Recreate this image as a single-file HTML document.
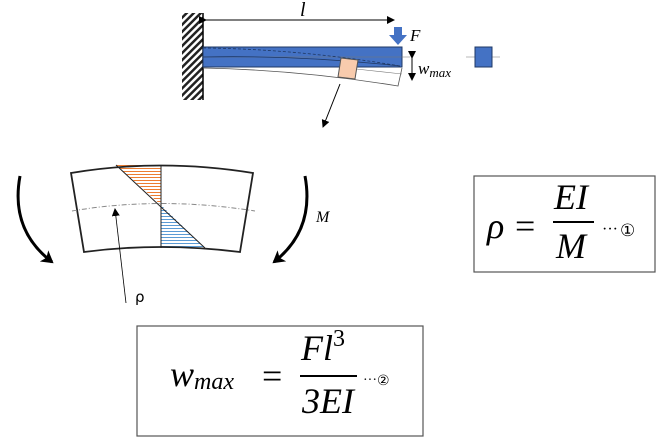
<!DOCTYPE html>
<html><head><meta charset="utf-8"><style>
html,body{margin:0;padding:0;background:#fff;width:671px;height:442px;overflow:hidden}
text{font-family:"Liberation Serif",serif;font-style:italic}
.n{font-style:normal}
</style></head><body>
<svg width="671" height="442" viewBox="0 0 671 442" xmlns="http://www.w3.org/2000/svg">
<defs>
<pattern id="hatch" width="5" height="5" patternUnits="userSpaceOnUse" patternTransform="rotate(45)">
<rect width="5" height="5" fill="#fff"/><rect width="2.5" height="5" fill="#222"/></pattern>
<pattern id="ho" width="4" height="3" patternUnits="userSpaceOnUse"><rect width="4" height="3" fill="#fff"/><rect width="4" height="1" fill="#ED7D31"/></pattern>
<pattern id="hb" width="4" height="3" patternUnits="userSpaceOnUse"><rect width="4" height="3" fill="#fff"/><rect width="4" height="1" fill="#5B9BD5"/></pattern>
<marker id="ar" markerWidth="8" markerHeight="8" refX="7" refY="4" orient="auto" markerUnits="userSpaceOnUse"><path d="M0,0 L8,4 L0,8 z" fill="#000"/></marker>
<marker id="ar2" markerWidth="14" markerHeight="14" refX="10" refY="7" orient="auto" markerUnits="userSpaceOnUse"><path d="M0,0 L12,7 L0,14 L3,7 z" fill="#000"/></marker>
</defs>
<rect x="182" y="13" width="21" height="87" fill="url(#hatch)"/>
<line x1="203" y1="13" x2="203" y2="100" stroke="#000" stroke-width="1.5"/>
<line x1="206" y1="20" x2="394" y2="20" stroke="#000" marker-end="url(#ar)" marker-start="url(#ar)"/>
<text x="300" y="16" font-size="20">l</text>
<path d="M203,68 Q300,70 398,86 L402,68" fill="none" stroke="#555" stroke-width="0.8"/>
<path d="M356,69 L402,74" stroke="#777" stroke-width="0.6" fill="none"/>
<rect x="203" y="47" width="199" height="20" fill="#4472C4" stroke="#1f3864"/>
<line x1="203" y1="57" x2="410" y2="57" stroke="#777" stroke-width="0.6"/>
<path d="M203,57 Q300,55 400,66" fill="none" stroke="#1f3864" stroke-width="0.8"/>
<path d="M203,48 Q300,49 400,66" fill="none" stroke="#1f3864" stroke-width="0.8" stroke-dasharray="3,2"/>
<path d="M394,27 h8 v8 h5 l-9,10 l-9,-10 h5 z" fill="#4472C4"/>
<text x="410" y="41" font-size="17">F</text>
<polygon points="341,58 358,60 355,79 338,77" fill="#F8CBAD" stroke="#555"/>
<line x1="340" y1="84" x2="323" y2="127" stroke="#000" marker-end="url(#ar)"/>
<line x1="412" y1="58" x2="412" y2="80" stroke="#000" marker-end="url(#ar)" marker-start="url(#ar)"/>
<text x="418" y="74" font-size="17">w<tspan font-size="13" dy="3">max</tspan></text>
<line x1="466" y1="57" x2="500" y2="57" stroke="#777" stroke-width="0.6"/>
<rect x="475" y="47" width="17" height="20" fill="#4472C4" stroke="#1f3864"/>
<polygon points="116,165 161,165 161,205" fill="url(#ho)"/>
<polygon points="161,205 161,248 205,248" fill="url(#hb)"/>
<path d="M71,173 Q160,158 253,173 L240,252 Q160,242 84,252 Z" fill="none" stroke="#222" stroke-width="1.8"/>
<line x1="116" y1="165" x2="205" y2="248" stroke="#222"/>
<line x1="161" y1="165" x2="161" y2="248" stroke="#222"/>
<path d="M72,211 Q160,196 255,211" fill="none" stroke="#888" stroke-dasharray="5,2,1,2"/>
<line x1="126" y1="303" x2="115" y2="209" stroke="#000" stroke-width="0.8" marker-end="url(#ar)"/>
<text x="135" y="302" font-size="15" style="font-style:normal;font-family:'DejaVu Sans',sans-serif">ρ</text>
<path d="M20,176 Q10,230 52,262" fill="none" stroke="#000" stroke-width="3" marker-end="url(#ar2)"/>
<path d="M305,176 Q315,230 274,262" fill="none" stroke="#000" stroke-width="3" marker-end="url(#ar2)"/>
<text x="316" y="222" font-size="16">M</text>
<rect x="474" y="176" width="181" height="96" fill="none" stroke="#555" stroke-width="1.2"/>
<text x="487" y="238" font-size="36">ρ</text>
<text x="515" y="238" font-size="36" class="n">=</text>
<text x="554" y="209" font-size="36">EI</text>
<line x1="553" y1="222" x2="594" y2="222" stroke="#000" stroke-width="2"/>
<text x="556" y="258" font-size="36">M</text>
<text x="602" y="234" font-size="16" class="n">···</text>
<text x="620" y="236" font-size="17" class="n" style="font-family:'DejaVu Sans',sans-serif">①</text>
<rect x="137" y="326" width="286" height="110" fill="none" stroke="#555" stroke-width="1.2"/>
<text x="170" y="386" font-size="36">w<tspan font-size="24" dy="3">max</tspan></text>
<text x="262" y="388" font-size="36" class="n">=</text>
<text x="301" y="360" font-size="36">Fl<tspan font-size="24" dy="-14" class="n">3</tspan></text>
<line x1="300" y1="376" x2="357" y2="376" stroke="#000" stroke-width="2"/>
<text x="302" y="413" font-size="36">3EI</text>
<text x="363" y="384" font-size="14" class="n">···</text>
<text x="377" y="385" font-size="14" class="n" style="font-family:'DejaVu Sans',sans-serif">②</text>
</svg>
</body></html>
